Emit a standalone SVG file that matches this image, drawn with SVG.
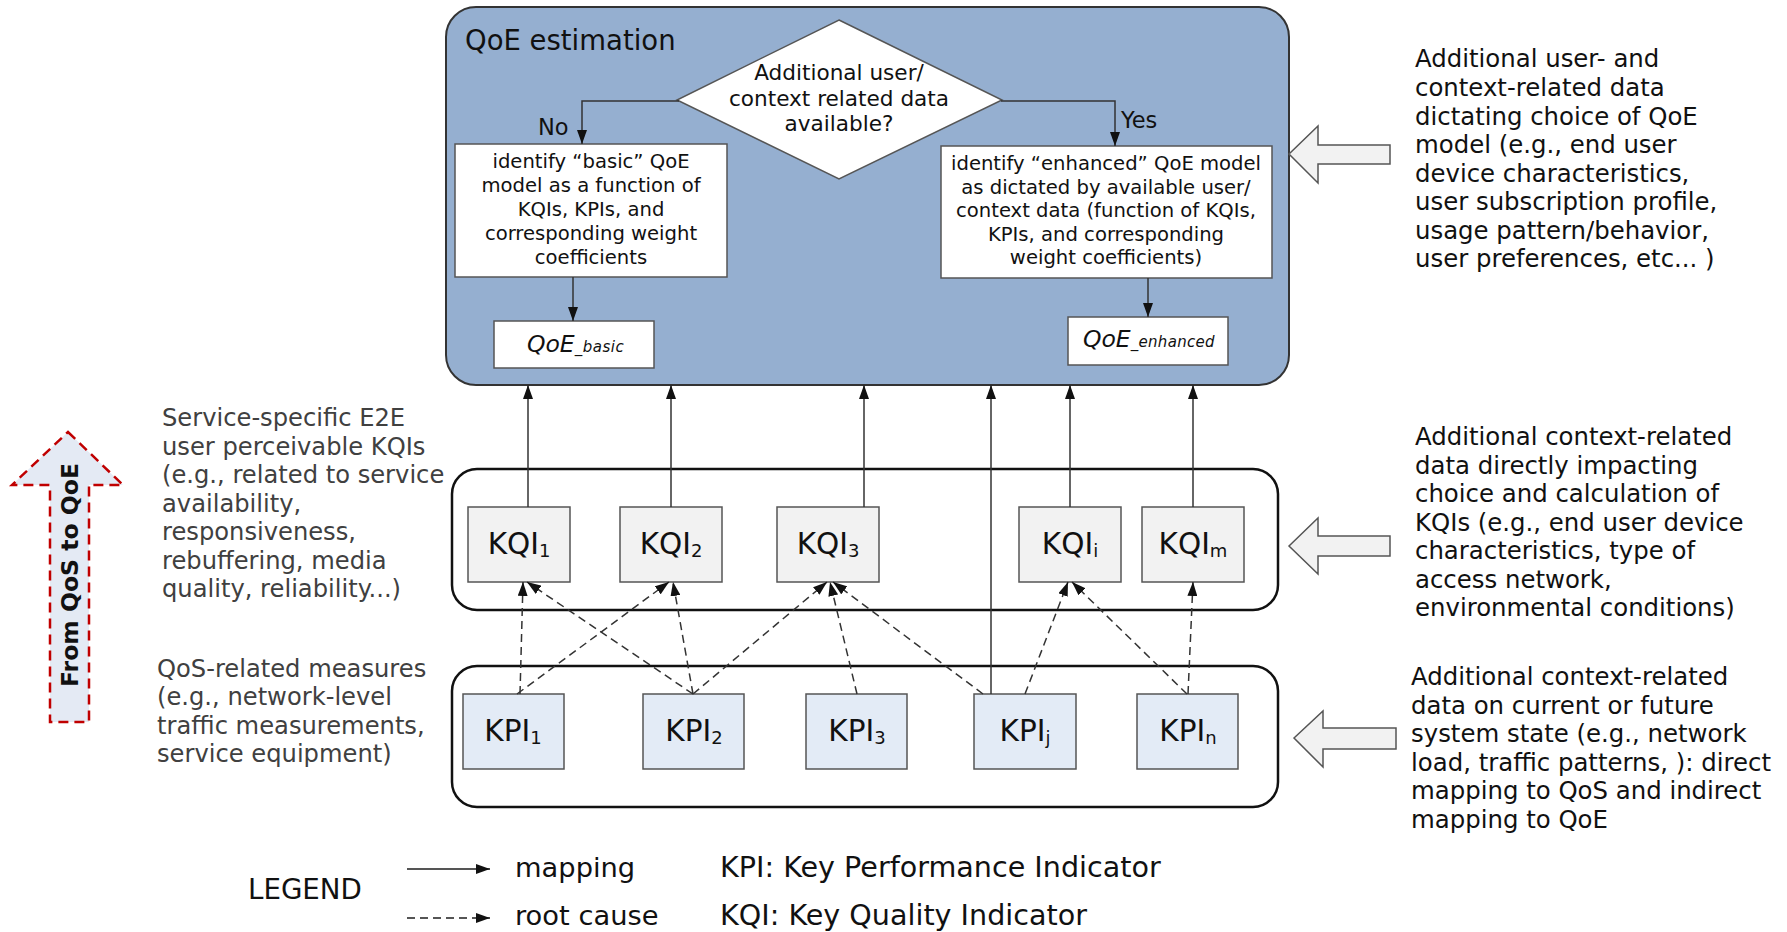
<svg xmlns="http://www.w3.org/2000/svg" width="1787" height="932" viewBox="0 0 1787 932">
<defs>
<style>
text{font-family:"DejaVu Sans","Verdana",sans-serif;fill:#111}
.box{stroke:#555;stroke-width:1.5}
.kqi{fill:#f2f2f2}
.kpi{fill:#e3ebf6}
.cont{fill:#fff;stroke:#111;stroke-width:2.5}
.lbl{font-size:29.5px}
.inbox{font-size:19.6px;text-anchor:middle}
.desc{font-size:24.4px}
.descg{font-size:24.2px;fill:#404040}
.solid{stroke:#333;stroke-width:1.5;fill:none}
.dash{stroke:#333;stroke-width:1.5;fill:none;stroke-dasharray:8 5}
.blk{fill:#f2f2f2;stroke:#555;stroke-width:1.5}
</style>
<marker id="ah" viewBox="0 0 14 10" refX="14" refY="5" markerWidth="14" markerHeight="10" markerUnits="userSpaceOnUse" orient="auto">
<path d="M0,0 L14,5 L0,10 z" fill="#111"/>
</marker>
</defs>
<rect width="1787" height="932" fill="#fff"/>

<g id="qoe-estimation">
<rect x="446" y="7" width="843" height="378" rx="30" fill="#95afd0" stroke="#333" stroke-width="2"/>
<text x="465" y="50" font-size="27.5">QoE estimation</text>
</g>

<g id="decision">
<polygon points="839,20 1002,100 839,179 677,100" fill="#fff" stroke="#555" stroke-width="1.5"/>
<text x="839" y="80" font-size="21.6" text-anchor="middle">Additional user/</text>
<text x="839" y="106" font-size="21.6" text-anchor="middle">context related data</text>
<text x="839" y="131" font-size="21.6" text-anchor="middle">available?</text>
</g>

<g id="basic-model">
<rect class="box" x="455" y="144" width="272" height="133" fill="#fff"/>
<text class="inbox" x="591" y="168">identify “basic” QoE</text>
<text class="inbox" x="591" y="192">model as a function of</text>
<text class="inbox" x="591" y="216">KQIs, KPIs, and</text>
<text class="inbox" x="591" y="240">corresponding weight</text>
<text class="inbox" x="591" y="264">coefficients</text>
</g>

<g id="enhanced-model">
<rect class="box" x="941" y="146" width="331" height="132" fill="#fff"/>
<text class="inbox" x="1106" y="170">identify “enhanced” QoE model</text>
<text class="inbox" x="1106" y="193.5">as dictated by available user/</text>
<text class="inbox" x="1106" y="217">context data (function of KQIs,</text>
<text class="inbox" x="1106" y="240.5">KPIs, and corresponding</text>
<text class="inbox" x="1106" y="264">weight coefficients)</text>
</g>

<g id="qoe-basic">
<rect class="box" x="494" y="321" width="160" height="47" fill="#fff"/>
<text x="527" y="352" font-size="23.5" font-style="italic">QoE<tspan font-size="15" letter-spacing="0.5">_basic</tspan></text>
</g>

<g id="qoe-enhanced">
<rect class="box" x="1068" y="317" width="160" height="48" fill="#fff"/>
<text x="1083" y="347" font-size="23.5" font-style="italic">QoE<tspan font-size="15" letter-spacing="0.3">_enhanced</tspan></text>
</g>

<g id="kqi-layer">
<rect class="cont" x="452" y="469" width="826" height="141" rx="25"/>
</g>
<g id="kpi-layer">
<rect class="cont" x="452" y="666" width="826" height="141" rx="25"/>
</g>

<g id="kqi1"><rect class="box kqi" x="468" y="507" width="102" height="75"/><text class="lbl" x="519" y="554" text-anchor="middle">KQI<tspan font-size="18" dy="3">1</tspan></text></g>
<g id="kqi2"><rect class="box kqi" x="620" y="507" width="102" height="75"/><text class="lbl" x="671" y="554" text-anchor="middle">KQI<tspan font-size="18" dy="3">2</tspan></text></g>
<g id="kqi3"><rect class="box kqi" x="777" y="507" width="102" height="75"/><text class="lbl" x="828" y="554" text-anchor="middle">KQI<tspan font-size="18" dy="3">3</tspan></text></g>
<g id="kqii"><rect class="box kqi" x="1019" y="507" width="102" height="75"/><text class="lbl" x="1070" y="554" text-anchor="middle">KQI<tspan font-size="18" dy="3">i</tspan></text></g>
<g id="kqim"><rect class="box kqi" x="1142" y="507" width="102" height="75"/><text class="lbl" x="1193" y="554" text-anchor="middle">KQI<tspan font-size="18" dy="3">m</tspan></text></g>

<g id="kpi1"><rect class="box kpi" x="463" y="694" width="101" height="75"/><text class="lbl" x="513" y="741" text-anchor="middle">KPI<tspan font-size="18" dy="3">1</tspan></text></g>
<g id="kpi2"><rect class="box kpi" x="643" y="694" width="101" height="75"/><text class="lbl" x="694" y="741" text-anchor="middle">KPI<tspan font-size="18" dy="3">2</tspan></text></g>
<g id="kpi3"><rect class="box kpi" x="806" y="694" width="101" height="75"/><text class="lbl" x="857" y="741" text-anchor="middle">KPI<tspan font-size="18" dy="3">3</tspan></text></g>
<g id="kpij"><rect class="box kpi" x="974" y="694" width="102" height="75"/><text class="lbl" x="1025" y="741" text-anchor="middle">KPI<tspan font-size="18" dy="3">j</tspan></text></g>
<g id="kpin"><rect class="box kpi" x="1137" y="694" width="101" height="75"/><text class="lbl" x="1188" y="741" text-anchor="middle">KPI<tspan font-size="18" dy="3">n</tspan></text></g>

<g id="connectors">
<path class="solid" d="M679,101 H582 V144" marker-end="url(#ah)"/>
<path class="solid" d="M1001,101 H1115 V146" marker-end="url(#ah)"/>
<path class="solid" d="M573,277 V321" marker-end="url(#ah)"/>
<path class="solid" d="M1148,278 V317" marker-end="url(#ah)"/>
<path class="solid" d="M528,507 V385" marker-end="url(#ah)"/>
<path class="solid" d="M671,507 V385" marker-end="url(#ah)"/>
<path class="solid" d="M864,507 V385" marker-end="url(#ah)"/>
<path class="solid" d="M991,694 V385" marker-end="url(#ah)"/>
<path class="solid" d="M1070,507 V385" marker-end="url(#ah)"/>
<path class="solid" d="M1193,507 V385" marker-end="url(#ah)"/>
<path class="dash" d="M520,694 L523,582" marker-end="url(#ah)"/>
<path class="dash" d="M517,694 L669,582" marker-end="url(#ah)"/>
<path class="dash" d="M693,694 L527,582" marker-end="url(#ah)"/>
<path class="dash" d="M693,694 L673,582" marker-end="url(#ah)"/>
<path class="dash" d="M693,694 L827,582" marker-end="url(#ah)"/>
<path class="dash" d="M857,694 L830,582" marker-end="url(#ah)"/>
<path class="dash" d="M983,694 L833,582" marker-end="url(#ah)"/>
<path class="dash" d="M1025,694 L1068,582" marker-end="url(#ah)"/>
<path class="dash" d="M1187,694 L1072,582" marker-end="url(#ah)"/>
<path class="dash" d="M1188,694 L1193,582" marker-end="url(#ah)"/>
<text x="538" y="135" font-size="22.5">No</text>
<text x="1121" y="128" font-size="22.5">Yes</text>
</g>

<g id="input-arrows">
<polygon class="blk" points="1289,154 1318,126 1318,145 1390,145 1390,164 1318,164 1318,183"/>
<polygon class="blk" points="1289,546 1318,518 1318,536 1390,536 1390,556 1318,556 1318,574"/>
<polygon class="blk" points="1294,738 1323,711 1323,728 1396,728 1396,749 1323,749 1323,767"/>
</g>

<g id="note-user-context">
<text class="desc" x="1415" y="67">Additional user- and</text>
<text class="desc" x="1415" y="96">context-related data</text>
<text class="desc" x="1415" y="124.5">dictating choice of QoE</text>
<text class="desc" x="1415" y="153">model (e.g., end user</text>
<text class="desc" x="1415" y="181.5">device characteristics,</text>
<text class="desc" x="1415" y="210">user subscription profile,</text>
<text class="desc" x="1415" y="238.5">usage pattern/behavior,</text>
<text class="desc" x="1415" y="267">user preferences, etc... )</text>
</g>

<g id="note-kqi-context">
<text class="desc" x="1415" y="445">Additional context-related</text>
<text class="desc" x="1415" y="473.5">data directly impacting</text>
<text class="desc" x="1415" y="502">choice and calculation of</text>
<text class="desc" x="1415" y="530.5">KQIs (e.g., end user device</text>
<text class="desc" x="1415" y="559">characteristics, type of</text>
<text class="desc" x="1415" y="587.5">access network,</text>
<text class="desc" x="1415" y="616">environmental conditions)</text>
</g>

<g id="note-system-state">
<text class="desc" x="1411" y="685">Additional context-related</text>
<text class="desc" x="1411" y="713.5">data on current or future</text>
<text class="desc" x="1411" y="742">system state (e.g., network</text>
<text class="desc" x="1411" y="770.5">load, traffic patterns, ): direct</text>
<text class="desc" x="1411" y="799">mapping to QoS and indirect</text>
<text class="desc" x="1411" y="827.5">mapping to QoE</text>
</g>

<g id="note-kqis">
<text class="descg" x="162" y="426">Service-specific E2E</text>
<text class="descg" x="162" y="454.5">user perceivable KQIs</text>
<text class="descg" x="162" y="483">(e.g., related to service</text>
<text class="descg" x="162" y="511.5">availability,</text>
<text class="descg" x="162" y="540">responsiveness,</text>
<text class="descg" x="162" y="568.5">rebuffering, media</text>
<text class="descg" x="162" y="597">quality, reliability...)</text>
</g>

<g id="note-qos">
<text class="descg" x="157" y="677">QoS-related measures</text>
<text class="descg" x="157" y="705">(e.g., network-level</text>
<text class="descg" x="157" y="733.5">traffic measurements,</text>
<text class="descg" x="157" y="762">service equipment)</text>
</g>

<g id="qos-to-qoe">
<polygon points="68,432 123,485 89,485 89,722 50,722 50,485 12,485" fill="#e4eaf4" stroke="#c00000" stroke-width="2.5" stroke-dasharray="10 6"/>
<text transform="translate(78,575) rotate(-90)" font-size="23.5" font-weight="bold" text-anchor="middle">From QoS to QoE</text>
</g>

<g id="legend">
<text x="248" y="899" font-size="27.7">LEGEND</text>
<path d="M407,869 H490" stroke="#555" stroke-width="2" fill="none" marker-end="url(#ah)"/>
<path d="M407,918 H490" stroke="#555" stroke-width="2" fill="none" stroke-dasharray="8 5" marker-end="url(#ah)"/>
<text x="515" y="877" font-size="27.3">mapping</text>
<text x="515" y="925" font-size="27.3">root cause</text>
<text x="720" y="877" font-size="28.6">KPI: Key Performance Indicator</text>
<text x="720" y="925" font-size="28.6">KQI: Key Quality Indicator</text>
</g>
</svg>
